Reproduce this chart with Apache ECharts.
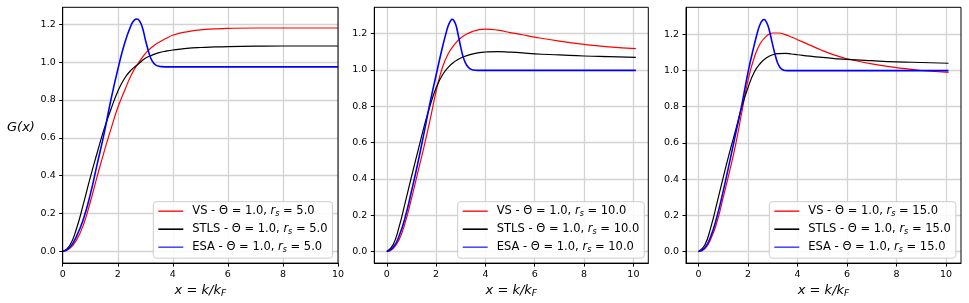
<!DOCTYPE html>
<html>
<head>
<meta charset="utf-8">
<script src="https://cdn.jsdelivr.net/npm/echarts@6/dist/echarts.min.js"></script>
<style>html,body{margin:0;padding:0;background:#fff}#c{width:969px;height:303px}</style>
</head>
<body>
<div id="c"></div>
<script>
// ---------- data ----------
var xTicks = [0, 2, 4, 6, 8, 10];
var yTicks = [0, 0.2, 0.4, 0.6, 0.8, 1.0, 1.2];

// Panel 1 (r_s = 5.0)
var p1_x = [0,0.25,0.5,0.75,1,1.25,1.5,1.75,2,2.25,2.5,2.75,3,3.25,3.5,3.75,4,4.5,5,5.5,6,7,8,9,10];
var p1_vs = [0,0.015,0.06,0.14,0.26,0.395,0.525,0.645,0.76,0.85,0.935,0.995,1.045,1.08,1.105,1.125,1.142,1.16,1.17,1.175,1.178,1.18,1.18,1.18,1.18];
var p1_stls = [0,0.03,0.12,0.25,0.39,0.52,0.645,0.75,0.845,0.915,0.96,0.99,1.02,1.037,1.05,1.058,1.064,1.072,1.077,1.08,1.082,1.084,1.085,1.085,1.085];
var p1_esa_x = [0,0.25,0.5,0.75,1,1.25,1.5,1.75,2,2.25,2.5,2.6,2.7,2.8,2.9,3.0,3.1,3.2,3.3,3.4,3.5,3.6,3.8,4,5,6,7,8,9,10];
var p1_esa = [0,0.02,0.08,0.17,0.3,0.46,0.62,0.8,0.96,1.1,1.2,1.222,1.228,1.215,1.18,1.12,1.065,1.02,0.995,0.983,0.978,0.976,0.975,0.975,0.975,0.975,0.975,0.975,0.975,0.975];

// Panel 2 (r_s = 10.0)
var p2_x = [0,0.25,0.5,0.75,1,1.25,1.5,1.75,2,2.25,2.5,2.75,3,3.25,3.5,3.75,4,4.5,5,5.5,6,7,8,9,10.1];
var p2_vs = [0,0.015,0.065,0.16,0.29,0.43,0.57,0.72,0.88,1.01,1.09,1.14,1.175,1.197,1.212,1.221,1.224,1.218,1.205,1.193,1.18,1.158,1.14,1.126,1.116];
var p2_stls = [0,0.035,0.135,0.27,0.41,0.545,0.68,0.8,0.9,0.97,1.015,1.045,1.065,1.078,1.088,1.095,1.098,1.1,1.097,1.093,1.088,1.082,1.076,1.072,1.068];
var p2_esa_x = [0,0.25,0.5,0.75,1,1.25,1.5,1.75,2,2.25,2.4,2.5,2.6,2.65,2.7,2.8,2.9,3.0,3.1,3.2,3.3,3.4,3.5,3.7,4,5,6,7,8,9,10.1];
var p2_esa = [0,0.02,0.085,0.19,0.33,0.48,0.645,0.815,0.97,1.12,1.2,1.245,1.272,1.278,1.275,1.248,1.19,1.125,1.07,1.035,1.015,1.004,0.999,0.997,0.997,0.997,0.997,0.997,0.997,0.997,0.997];

// Panel 3 (r_s = 15.0)
var p3_x = [0,0.25,0.5,0.75,1,1.25,1.5,1.75,2,2.25,2.5,2.75,3,3.25,3.5,3.75,4,4.5,5,5.5,6,7,8,9,10.1];
var p3_vs = [0,0.015,0.07,0.165,0.3,0.44,0.59,0.77,0.945,1.07,1.15,1.19,1.207,1.207,1.198,1.185,1.17,1.14,1.11,1.085,1.065,1.036,1.016,1.0,0.99];
var p3_stls = [0,0.035,0.135,0.27,0.41,0.545,0.67,0.8,0.905,0.99,1.04,1.07,1.087,1.093,1.094,1.091,1.087,1.079,1.072,1.066,1.061,1.054,1.048,1.044,1.04];
var p3_esa_x = [0,0.25,0.5,0.75,1,1.25,1.5,1.75,2,2.25,2.4,2.5,2.6,2.65,2.7,2.8,2.9,3.0,3.1,3.2,3.3,3.4,3.5,3.7,4,5,6,7,8,9,10.1];
var p3_esa = [0,0.02,0.085,0.195,0.335,0.49,0.65,0.81,0.99,1.14,1.22,1.258,1.28,1.282,1.277,1.25,1.2,1.14,1.085,1.04,1.015,1.004,1.0,0.999,0.999,0.999,0.999,0.999,0.999,0.999,0.999];

var rsLabels = ['5.0', '10.0', '15.0'];

// ---------- chart ----------
var FONT = 'DejaVu Sans';
function pairs(xs, ys) { return xs.map(function (x, i) { return [x, ys[i]]; }); }

var panels = [
  {vs: pairs(p1_x, p1_vs), stls: pairs(p1_x, p1_stls), esa: pairs(p1_esa_x, p1_esa), xmin: 0, xmax: 10, ymin: -0.0614, ymax: 1.2894},
  {vs: pairs(p2_x, p2_vs), stls: pairs(p2_x, p2_stls), esa: pairs(p2_esa_x, p2_esa), xmin: -0.505, xmax: 10.605, ymin: -0.064, ymax: 1.344},
  {vs: pairs(p3_x, p3_vs), stls: pairs(p3_x, p3_stls), esa: pairs(p3_esa_x, p3_esa), xmin: -0.505, xmax: 10.605, ymin: -0.064, ymax: 1.349}
];
var grids = [
  {left: 62.7, top: 7.3, width: 275.3, height: 256.7},
  {left: 374.3, top: 7.3, width: 274, height: 256.7},
  {left: 686, top: 7.3, width: 275, height: 256.7}
];
var legendPos = [{left: 153.3, top: 201.7}, {left: 457.7, top: 201.7}, {left: 769.3, top: 201.7}];

var option = {
  animation: false,
  backgroundColor: '#fff',
  grid: [], xAxis: [], yAxis: [], series: [], legend: [],
  graphic: [{type: 'text', left: 7, top: 121, style: {text: 'G(x)', font: 'italic 13px "DejaVu Sans"', fill: '#000'}}]
};

panels.forEach(function (p, k) {
  var g = grids[k];
  option.grid.push({left: g.left, top: g.top, width: g.width, height: g.height, show: true, borderColor: '#000', borderWidth: 1, backgroundColor: 'transparent', z: 5});
  option.xAxis.push({
    type: 'value', gridIndex: k, min: p.xmin, max: p.xmax,
    name: '{i|x = k/k}{s|F}', nameLocation: 'middle', nameGap: 17,
    nameTextStyle: {rich: {i: {fontFamily: FONT, fontStyle: 'italic', fontSize: 13, color: '#000'},
                           s: {fontFamily: FONT, fontStyle: 'italic', fontSize: 9, color: '#000', padding: [6, 0, 0, 0]}}},
    axisLine: {show: true, onZero: false, lineStyle: {color: '#000', width: 1}},
    axisTick: {show: true, inside: false, length: 3.5, customValues: xTicks, lineStyle: {color: '#000', width: 1}},
    axisLabel: {customValues: xTicks, margin: 6, fontFamily: FONT, fontSize: 9.5, color: '#000',
                formatter: function (v) { return String(Math.round(v)); }},
    splitLine: {show: true, lineStyle: {color: '#d3d3d3', width: 1.3}}
  });
  option.yAxis.push({
    type: 'value', gridIndex: k, min: p.ymin, max: p.ymax,
    axisLine: {show: true, onZero: false, lineStyle: {color: '#000', width: 1}},
    axisTick: {show: true, inside: false, length: 3.5, customValues: yTicks, lineStyle: {color: '#000', width: 1}},
    axisLabel: {customValues: yTicks, margin: 7, fontFamily: FONT, fontSize: 9.5, color: '#000',
                formatter: function (v) { return v.toFixed(1); }},
    splitLine: {show: true, lineStyle: {color: '#d3d3d3', width: 1.3}}
  });
  var names = ['VS', 'STLS', 'ESA'].map(function (m) { return m + ' - Θ = 1.0, r_s = ' + rsLabels[k]; });
  var cols = ['#ff0000', '#000000', '#0000ff'];
  var legCols = ['#ff2a2a', '#000000', '#4d4dff'];
  var widths = [1.2, 1.2, 1.6];
  [p.vs, p.stls, p.esa].forEach(function (d, j) {
    option.series.push({
      type: 'line', name: names[j], xAxisIndex: k, yAxisIndex: k, data: d,
      symbol: 'none', showSymbol: false, smooth: 0.5,
      lineStyle: {color: cols[j], width: widths[j]}, itemStyle: {color: cols[j]}, z: 2 + j
    });
  });
  option.legend.push({
    show: true, type: 'plain', z: 10,
    data: names.map(function (n, j) { return {name: n, icon: 'rect', itemStyle: {color: legCols[j]}}; }),
    orient: 'vertical', left: legendPos[k].left, top: legendPos[k].top,
    itemWidth: 25, itemHeight: 1.6, itemGap: 4, padding: [2.5, 5, 4, 5],
    backgroundColor: 'rgba(255,255,255,0.85)', borderColor: '#cccccc', borderWidth: 1, borderRadius: 3,
    selectedMode: false,
    formatter: function (name) {
      var parts = name.split(', r_s = ');
      return '{f|' + parts[0] + ', }{i|r}{s|s}{n| = ' + parts[1] + '}';
    },
    textStyle: {fontFamily: FONT, fontSize: 11.5, color: '#000', lineHeight: 14,
      rich: {f: {fontFamily: FONT, fontSize: 11.5, color: '#000', lineHeight: 14, padding: [0, 0, 0, 4]},
             n: {fontFamily: FONT, fontSize: 11.5, color: '#000', lineHeight: 14},
             i: {fontFamily: FONT, fontSize: 11.5, fontStyle: 'italic', color: '#000', lineHeight: 14},
             s: {fontFamily: FONT, fontSize: 8, fontStyle: 'italic', color: '#000', lineHeight: 14, padding: [5, 0, 0, 0]}}}
  });
});

var chart = echarts.init(document.getElementById('c'), null, {renderer: 'canvas'});
chart.setOption(option);
</script>
</body>
</html>
